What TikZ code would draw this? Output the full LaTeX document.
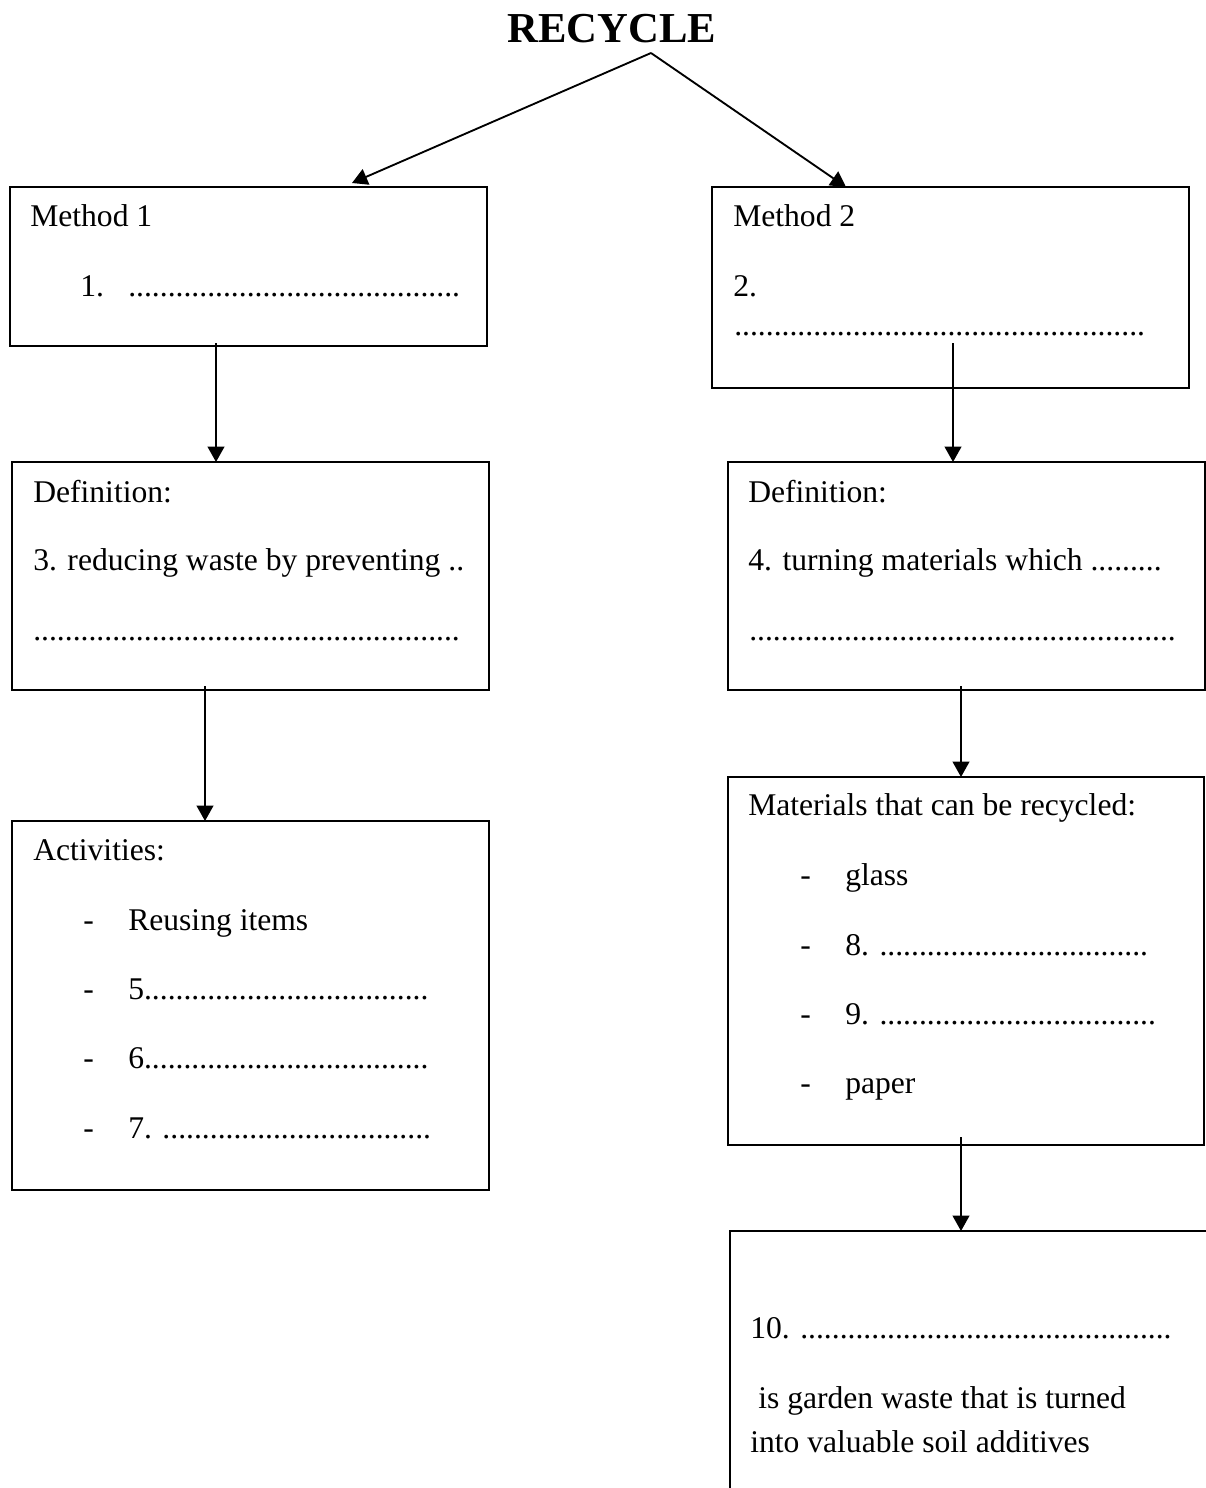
\documentclass[tikz,border=0pt]{standalone}
\usepackage{fontspec}
\setmainfont{Liberation Serif}
\usetikzlibrary{arrows.meta}
\ExplSyntaxOn
\NewDocumentCommand\dotrep{m}{\prg_replicate:nn{#1}{.}}
\ExplSyntaxOff
\begin{document}
\begin{tikzpicture}[x=0.75pt,y=-0.75pt,
  box/.style={draw, line width=1.5pt, anchor=north west, inner sep=0pt, outer sep=0pt},
  txt/.style={anchor=base west, inner sep=0pt, font=\fontsize{23.7}{28}\selectfont},
  arr/.style={line width=1.4pt, -{Triangle[length=11.5pt,width=12.5pt]}}]
\clip (0,0) rectangle (1206,1488);
% title
\node[anchor=base, inner sep=0pt, font=\bfseries\fontsize{32}{38}\selectfont] (title) at (612,43) {RECYCLE};
% boxes
\node[box, minimum width=477*0.75pt, minimum height=159*0.75pt] (m1) at (10,187) {};
\node[box, minimum width=477*0.75pt, minimum height=201*0.75pt] (m2) at (712,187) {};
\node[box, minimum width=477*0.75pt, minimum height=228*0.75pt] (d1) at (12,462) {};
\node[box, minimum width=477*0.75pt, minimum height=228*0.75pt] (d2) at (728,462) {};
\node[box, minimum width=477*0.75pt, minimum height=369*0.75pt] (act) at (12,821) {};
\node[box, minimum width=476*0.75pt, minimum height=368*0.75pt] (mat) at (728,777) {};
\node[box, minimum width=520*0.75pt, minimum height=320*0.75pt] (comp) at (730,1231) {};
% connectors
\coordinate (ts) at (651,53);
\coordinate (t1) at (352,183);
\coordinate (t2) at (846,187);
\draw[arr] (ts) -- (t1);
\draw[arr] (ts) -- (t2);
\coordinate (a1) at (216,343);
\draw[arr] (a1) -- (a1 |- d1.north);
\coordinate (a2) at (953,343);
\draw[arr] (a2) -- (a2 |- d2.north);
\coordinate (a3) at (205,686);
\draw[arr] (a3) -- (a3 |- act.north);
\coordinate (a4) at (961,686);
\draw[arr] (a4) -- (a4 |- mat.north);
\coordinate (a5) at (961,1137);
\draw[arr] (a5) -- (a5 |- comp.north);
% Method 1
\node[txt] (m1t) at (30,226) {Method 1};
\node[txt] (m1n) at (80,296) {1.};
\node[txt] (m1d) at (128,296) {\dotrep{42}};
% Method 2
\node[txt] (m2t) at (733,226) {Method 2};
\node[txt] (m2n) at (733,296) {2.};
\node[txt] (m2d) at (734,335) {\dotrep{52}};
% Definition 1
\node[txt] (d1t) at (33,502) {Definition:};
\node[txt] (d1a) at (33,570) {3. reducing waste by preventing ..};
\node[txt] (d1b) at (33,640) {\dotrep{54}};
% Definition 2
\node[txt] (d2t) at (748,502) {Definition:};
\node[txt] (d2a) at (748,570) {4. turning materials which \dotrep{9}};
\node[txt] (d2b) at (749,640) {\dotrep{54}};
% Activities
\node[txt] (actt) at (33,860) {Activities:};
\node[txt] (b1) at (83,930) {-};
\node[txt] (i1) at (128,930) {Reusing items};
\node[txt] (b2) at (83,999) {-};
\node[txt] (i2) at (128,999) {5\dotrep{36}};
\node[txt] (b3) at (83,1068) {-};
\node[txt] (i3) at (128,1068) {6\dotrep{36}};
\node[txt] (b4) at (83,1138) {-};
\node[txt] (i4) at (128,1138) {7. \dotrep{34}};
% Materials
\node[txt] (matt) at (748,815) {Materials that can be recycled:};
\node[txt] (c1) at (800,885) {-};
\node[txt] (j1) at (845,885) {glass};
\node[txt] (c2) at (800,955) {-};
\node[txt] (j2) at (845,955) {8. \dotrep{34}};
\node[txt] (c3) at (800,1024) {-};
\node[txt] (j3) at (845,1024) {9. \dotrep{35}};
\node[txt] (c4) at (800,1093) {-};
\node[txt] (j4) at (845,1093) {paper};
% Compost box
\node[txt] (k1) at (750,1338) {10. \dotrep{47}};
\node[txt] (k2) at (758,1408) {is garden waste that is turned};
\node[txt] (k3) at (750,1452) {into valuable soil additives};
\end{tikzpicture}
\end{document}
